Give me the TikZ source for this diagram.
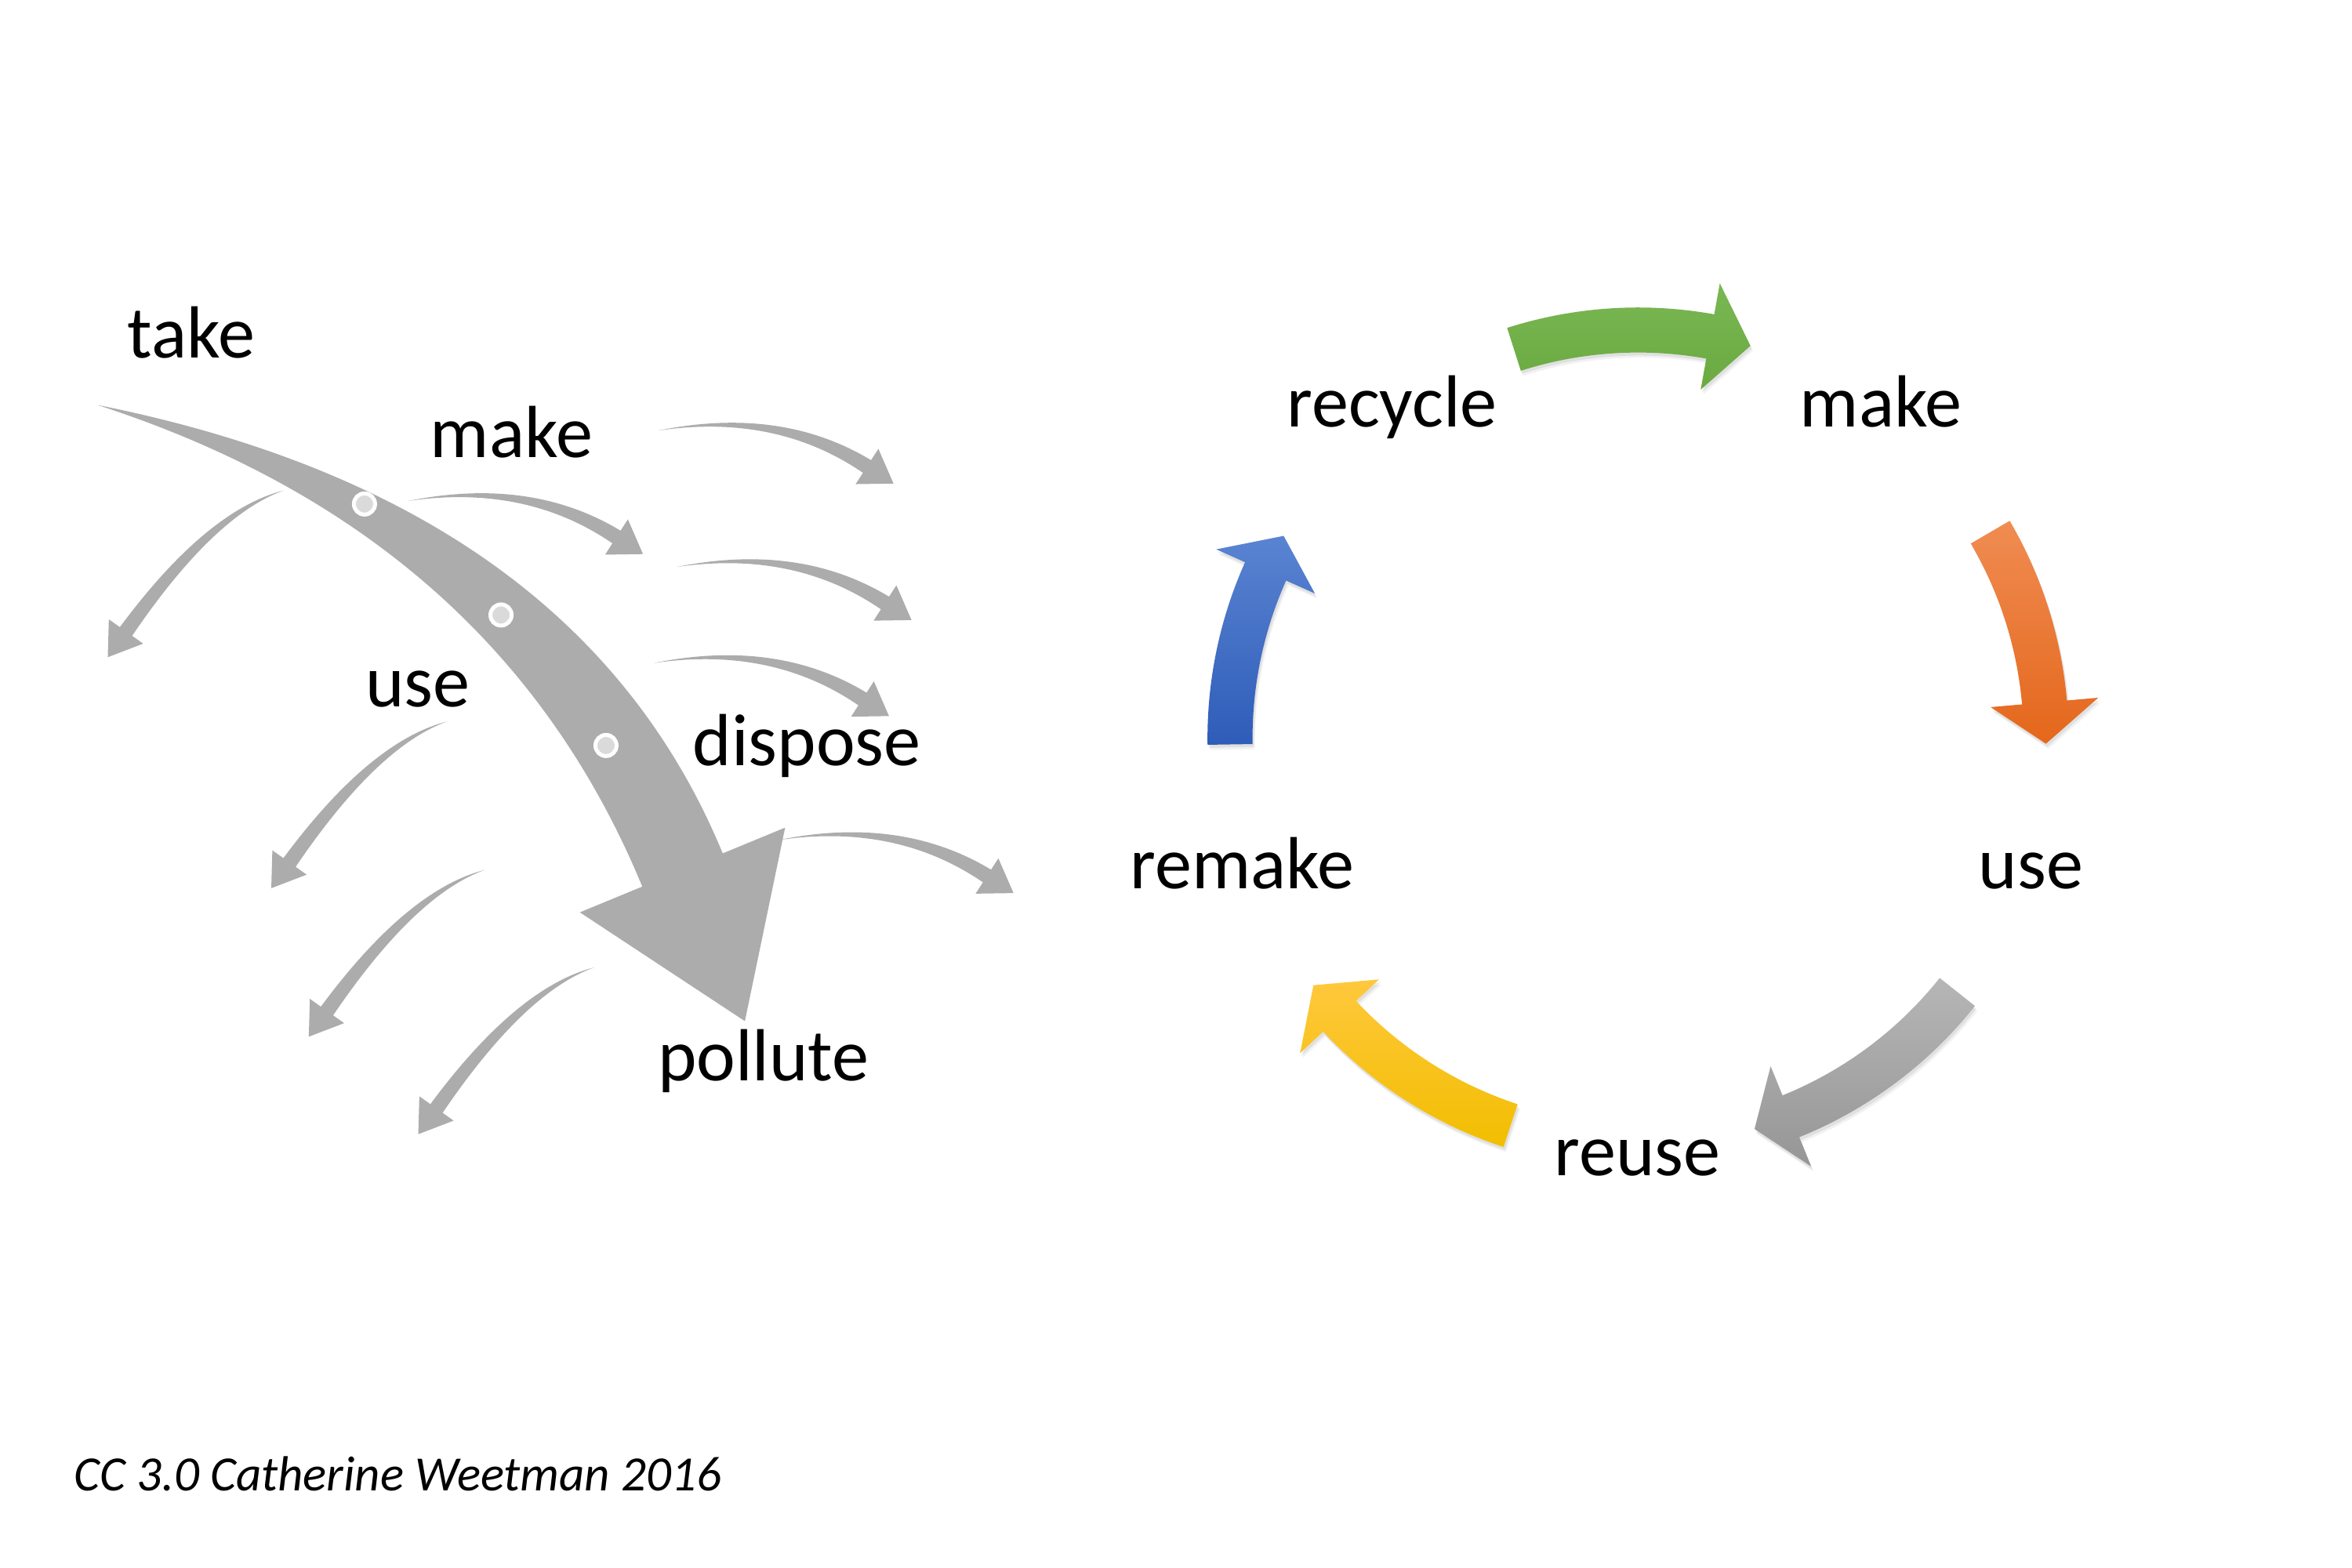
\documentclass[tikz,border=0pt]{standalone}
\usepackage{fontspec}
\setmainfont{Carlito}
\usetikzlibrary{calc}
\definecolor{leftgray}{RGB}{172,172,172}
\definecolor{dotfill}{RGB}{218,218,218}
\definecolor{greenT}{RGB}{122,183,84}
\definecolor{greenB}{RGB}{106,170,64}
\definecolor{orangeT}{RGB}{240,140,82}
\definecolor{orangeB}{RGB}{228,103,28}
\definecolor{grayT}{RGB}{182,182,182}
\definecolor{grayB}{RGB}{150,150,150}
\definecolor{yellowT}{RGB}{255,200,61}
\definecolor{yellowB}{RGB}{242,190,0}
\definecolor{blueT}{RGB}{90,132,210}
\definecolor{blueB}{RGB}{46,92,184}
\newcommand\pxu{0.191327mm}
% tapered curved arrow: #1 start, #2 quadratic control, #3 head base centre,
% #4 half shaft width, #5 half head width, #6 head length, #7 control offset
\newcommand\taper[7]{%
  \coordinate (tS) at #1; \coordinate (tC) at #2; \coordinate (tH) at #3;
  \coordinate (tT) at ($(tH)!#6*\pxu!180:(tC)$);
  \coordinate (tA) at ($(tH)!#4*\pxu!90:(tC)$);
  \coordinate (tB) at ($(tH)!#4*\pxu!-90:(tC)$);
  \coordinate (tHA) at ($(tH)!#5*\pxu!90:(tC)$);
  \coordinate (tHB) at ($(tH)!#5*\pxu!-90:(tC)$);
  \coordinate (tCA) at ($(tC)!#7*\pxu!-90:(tH)$);
  \coordinate (tCB) at ($(tC)!#7*\pxu!90:(tH)$);
  \fill[leftgray] (tS) .. controls ($(tS)!0.6667!(tCA)$) and ($(tA)!0.6667!(tCA)$) .. (tA)
    -- (tHA) -- (tT) -- (tHB) -- (tB)
    .. controls ($(tB)!0.6667!(tCB)$) and ($(tS)!0.6667!(tCB)$) .. (tS) -- cycle;
}
% circular arrow outline: #1 tail angle, #2 head base angle, #3 tip angle
\newcommand\cycpath[3]{%
  (#1:287) arc[start angle=#1,end angle=#2,radius=287]
    -- (#2:308) -- (#3:272) -- (#2:236) -- (#2:257)
    arc[start angle=#2,end angle=#1,radius=257] -- cycle
}
% circular arrow with a soft shadow: #4/#5 top/bottom colours
\newcommand\cycarrow[5]{%
  \fill[black,opacity=0.05,shift={(1.6,3.4)}] \cycpath{#1}{#2}{#3};
  \fill[black,opacity=0.07,shift={(0.9,2.0)}] \cycpath{#1}{#2}{#3};
  \shade[top color=#4,bottom color=#5] \cycpath{#1}{#2}{#3};
}
\begin{document}
\begin{tikzpicture}[x=0.191327mm,y=-0.191327mm,
  lbl/.style={font=\fontsize{26.8}{32}\selectfont, inner sep=0pt, anchor=base},
  credit/.style={font=\fontsize{17.9}{22}\selectfont\itshape, inner sep=0pt, anchor=base west},
  dot/.style={circle, fill=dotfill, draw=white, line width=0.5mm, minimum size=2.7mm, inner sep=0pt}]
\useasboundingbox (0,0) rectangle (1568,1045.33);
\fill[white] (0,0) rectangle (1568,1045.33);

% ---------- linear economy (left) ----------
\taper{(65,270)}{(358,345)}{(455,580)}{29}{74}{109}{29}
\node[dot] (d1) at (243,336) {};
\node[dot] (d2) at (334,410) {};
\node[dot] (d3) at (404,497) {};

% right-going small arrows
\foreach \sx/\sy in {439/287, 272/334, 451/378, 436/442, 519/560}{
  \taper{(\sx,\sy)}{($(\sx,\sy)+(80,-14)$)}{($(\sx,\sy)+(139,24)$)}{5}{14}{21}{3}
}
% left-going small arrows
\foreach \sx/\sy in {189/327, 298/481, 323/580, 396/645}{
  \taper{(\sx,\sy)}{($(\sx,\sy)+(-49,15)$)}{($(\sx,\sy)+(-105,94)$)}{5}{14}{21}{3}
}

\node[lbl] (take) at (127.5,238.5) {take};
\node[lbl] (make1) at (341,305) {make};
\node[lbl] (use1) at (278.5,471) {use};
\node[lbl] (dispose) at (538,510.5) {dispose};
\node[lbl] (pollute) at (509,720.5) {pollute};

% ---------- circular economy (right) ----------
\begin{scope}[shift={(1092,492)}]
  \cycarrow{-107.7}{-79.8}{-74}{greenT}{greenB}
  \cycarrow{-30.3}{-5}{0.8}{orangeT}{orangeB}
  \cycarrow{38.5}{68}{73.4}{grayT}{grayB}
  \cycarrow{108.2}{137}{142.7}{yellowT}{yellowB}
  \cycarrow{179.1}{204.1}{209.7}{blueT}{blueB}
\end{scope}

\node[lbl] (recycle) at (928,284.5) {recycle};
\node[lbl] (make2) at (1254,284.5) {make};
\node[lbl] (use2) at (1354,592.5) {use};
\node[lbl] (reuse) at (1091.5,783.5) {reuse};
\node[lbl] (remake) at (828,592.5) {remake};

\node[credit] (cc) at (49,994) {CC 3.0 Catherine Weetman 2016};
\end{tikzpicture}
\end{document}
